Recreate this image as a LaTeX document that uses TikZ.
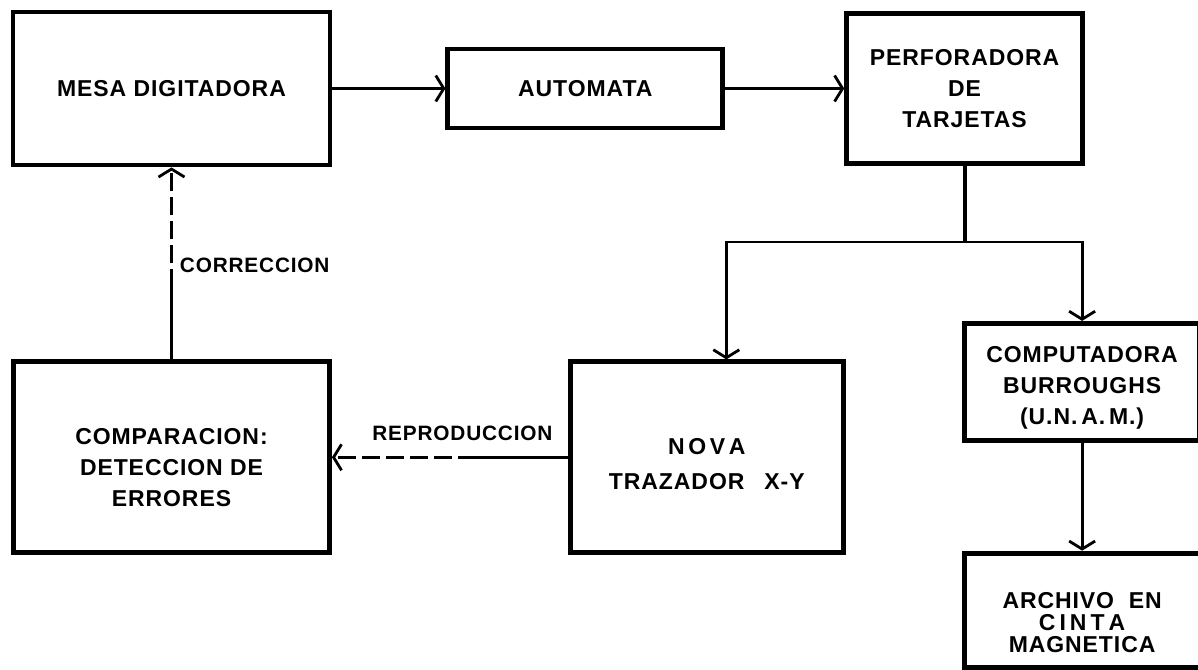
\documentclass[tikz,border=0pt]{standalone}
\usepackage{fontspec}
\setmainfont{Liberation Sans}[LetterSpace=4]
\usetikzlibrary{arrows.meta,positioning}

\begin{document}
\begin{tikzpicture}[
    block/.style={draw, line width=2.4pt, align=center, inner sep=0pt, font=\bfseries\fontsize{11.5}{15.5}\selectfont},
    arr/.style={-{Straight Barb[length=4pt,width=13pt]}, line width=1.4pt},
    lbl/.style={inner sep=0pt, font=\bfseries\fontsize{10.4}{12}\selectfont}
]
\useasboundingbox (0,0) rectangle (599pt,-334.5pt);
\node[block, minimum width=158.5pt, minimum height=76.5pt] (mesa) at (85.75pt,-44.25pt) {MESA DIGITADORA};
\node[block, minimum width=137.5pt, minimum height=39.5pt, right=56.5pt of mesa] (auto) {AUTOMATA};
\node[block, minimum width=118pt, minimum height=75pt, right=59.5pt of auto] (perf) {PERFORADORA\\DE\\TARJETAS};
\node[block, minimum width=158pt, minimum height=95.5pt, below=96pt of mesa] (cmp) {\rule{0pt}{18pt}COMPARACION:\\DETECCION DE\\ERRORES};
\node[block, minimum width=136.5pt, minimum height=95.5pt, right=118pt of cmp, font=\bfseries\fontsize{11.5}{17.5}\selectfont] (nova) {\rule{0pt}{15pt}N\kern1.8pt O\kern1.8pt V\kern1.8pt A\\TRAZADOR\hspace{10pt}X-Y};
\node[block, minimum width=117.5pt, minimum height=58.5pt, below=77.5pt of perf, xshift=58.75pt] (burr) {\rule{0pt}{14pt}COMPUTADORA\\BURROUGHS\\(U.N.\,A.\,M.)};
\node[block, minimum width=118pt, minimum height=57pt, below=54pt of burr, font=\bfseries\fontsize{11.5}{11}\selectfont] (cinta) {\rule{0pt}{21pt}ARCHIVO\ \ EN\\C\kern2pt I\kern2pt N\kern2pt T\kern2pt A\\MAGNETICA};
\draw[arr] (mesa) -- (auto);
\draw[arr] (auto) -- (perf);
% split below the card punch
\draw[line width=2pt] (perf.south) -- ++(0,-38pt) coordinate (br);
\coordinate (nt) at ([xshift=9.75pt]nova.north);
\draw[arr] (br) -| (nt);
\draw[arr] (br) -| (burr.north);
\draw[arr] (burr) -- (cinta);
% return paths
\draw[line width=1.4pt] (nova.west) -- ++(-46pt,0) coordinate (rb);
\draw[arr, dash pattern=on 9pt off 3pt] (rb) -- (cmp.east);
\node[lbl, anchor=south east] (repro) at ([xshift=-7.5pt, yshift=8pt]nova.west) {REPRODUCCION};
\draw[line width=1.4pt] (cmp.north) -- ++(0,36pt) coordinate (cb);
\draw[arr, dash pattern=on 9pt off 3pt] (cb) -- (cb |- mesa.south);
\node[lbl, anchor=west] (corr) at ([xshift=4pt, yshift=11pt]cb) {CORRECCION};
\end{tikzpicture}
\end{document}
